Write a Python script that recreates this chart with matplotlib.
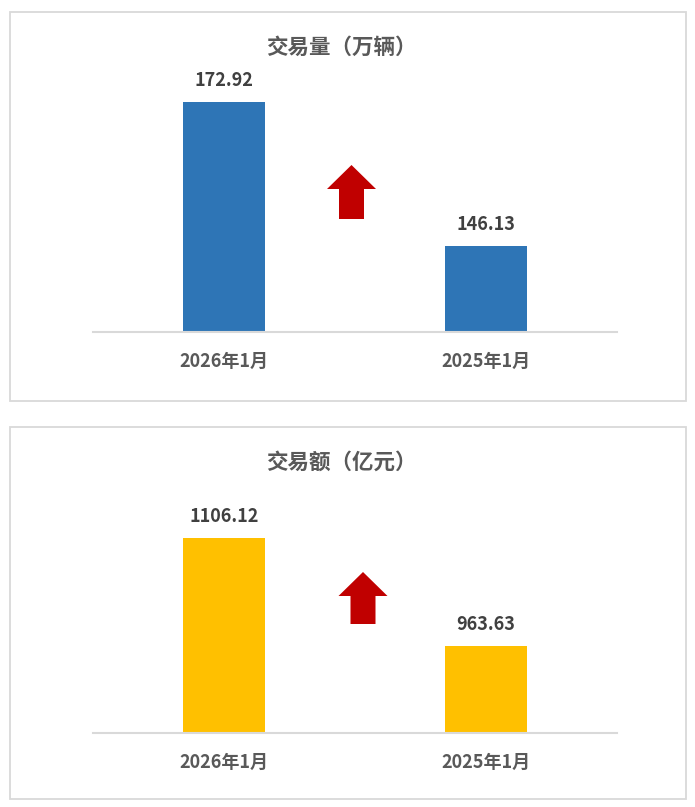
import matplotlib
matplotlib.use("Agg")
import matplotlib.pyplot as plt
from matplotlib.patches import Rectangle, FancyArrow

plt.rcParams["font.family"] = ["Noto Sans CJK SC", "DejaVu Sans"]

categories = ["2026年1月", "2025年1月"]
volume = [172.92, 146.13]     # 万辆
amount = [1106.12, 963.63]    # 亿元
titles = ["交易量（万辆）", "交易额（亿元）"]

W, H = 695, 807
fig = plt.figure(figsize=(W / 100, H / 100), dpi=100)


def px_rect(left, top, right, bottom):
    return [left / W, 1 - bottom / H, (right - left) / W, (bottom - top) / H]


def bar_panel(rect, values, color, ylim):
    ax = fig.add_axes(rect)
    x = range(len(values))
    ax.bar(x, values, width=0.313, color=color, zorder=2)
    ax.set_xlim(-0.5, len(values) - 0.5)
    ax.set_ylim(*ylim)
    for s in ["top", "left", "right"]:
        ax.spines[s].set_visible(False)
    ax.spines["bottom"].set_color("#D9D9D9")
    ax.spines["bottom"].set_linewidth(1.5)
    ax.set_yticks([])
    ax.set_xticks(list(x))
    ax.set_xticklabels(categories, fontsize=13, fontweight="bold", color="#595959")
    ax.tick_params(axis="x", length=0, pad=14.5)
    for i, v in enumerate(values):
        ax.annotate(f"{v:.2f}", (i, v), xytext=(0, 15.5), textcoords="offset points",
                    ha="center", va="center", fontsize=13, fontweight="bold",
                    color="#404040")
    return ax


bar_panel(px_rect(93, 92, 617, 332), volume, "#2E75B6", (130.3, 174.7))
bar_panel(px_rect(93, 493, 617, 733), amount, "#FFC000", (850, 1164.5))

# overlay in pixel coordinates for frames, titles and arrows
ov = fig.add_axes([0, 0, 1, 1])
ov.set_xlim(0, W)
ov.set_ylim(H, 0)
ov.axis("off")
ov.patch.set_alpha(0)

for top, bottom in [(12, 401), (427, 799)]:
    ov.add_patch(Rectangle((10, top), 676, bottom - top, fill=False,
                           edgecolor="#D9D9D9", linewidth=1.3))

ov.text(341, 47, titles[0], ha="center", va="center", fontsize=15.5,
        fontweight="bold", color="#595959")
ov.text(341, 462, titles[1], ha="center", va="center", fontsize=15.5,
        fontweight="bold", color="#595959")

# red "up" arrows
for cx, tip, base in [(351.5, 165, 219), (363, 572, 624)]:
    ov.add_patch(FancyArrow(cx, base, 0, tip - base, width=25, head_width=49,
                            head_length=24, length_includes_head=True,
                            color="#C00000", linewidth=0))

fig.savefig("out.png", dpi=100)
